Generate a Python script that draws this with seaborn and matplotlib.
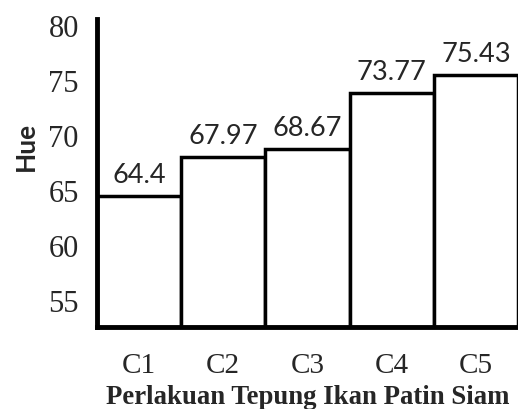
import pandas as pd
import matplotlib.pyplot as plt
import seaborn as sns

perlakuan = ['C1', 'C2', 'C3', 'C4', 'C5']
hue_values = [64.4, 67.97, 68.67, 73.77, 75.43]
value_labels = ['64.4', '67.97', '68.67', '73.77', '75.43']
y_ticks = [55, 60, 65, 70, 75, 80]

df = pd.DataFrame({'perlakuan': perlakuan, 'hue': hue_values})

sns.set_theme(style='white')

fig = plt.figure(figsize=(5.18, 4.10), dpi=100)
ax = fig.add_axes([0.187, 0.2, 0.813, 0.751])

sns.barplot(data=df, x='perlakuan', y='hue', color='white', saturation=1,
            edgecolor='black', linewidth=2.5, width=1.0, ax=ax)

ax.set_ylim(52.5, 80.5)
ax.set_xlim(-0.5, 4.5)
ax.set_yticks(y_ticks)
ax.set_yticklabels([str(t) for t in y_ticks], family='Liberation Serif', fontsize=22)
ax.set_xticks(range(len(perlakuan)))
ax.set_xticklabels(perlakuan, family='Liberation Serif', fontsize=21)
ax.tick_params(axis='y', length=0, pad=13)
ax.tick_params(axis='x', length=0, pad=18)

for i, (v, lab) in enumerate(zip(hue_values, value_labels)):
    ax.text(i, v + 0.8, lab, ha='center', va='bottom', family='Lato', fontsize=19.5)

ax.set_ylabel('Hue', family='Lato', fontweight='bold', fontsize=19)
ax.yaxis.set_label_coords(-0.14, 0.59)
ax.set_xlabel('Perlakuan Tepung Ikan Patin Siam', family='Liberation Serif',
              fontweight='bold', fontsize=19.3, va='top')
ax.xaxis.set_label_coords(0.5, -0.185)

sns.despine(ax=ax)
for side in ['left', 'bottom']:
    ax.spines[side].set_color('black')
    ax.spines[side].set_linewidth(3.5)

fig.savefig('out.png', dpi=100)
